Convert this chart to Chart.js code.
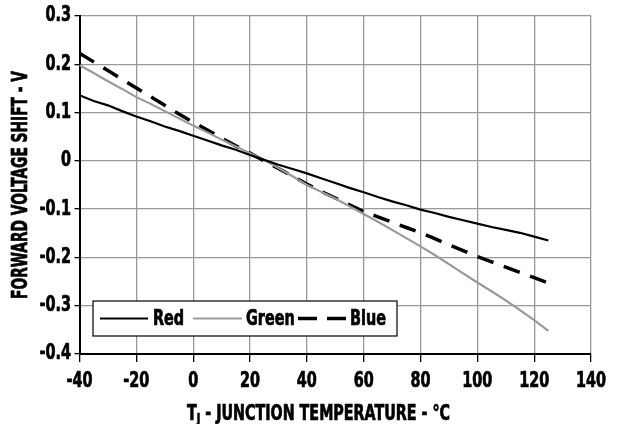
<!DOCTYPE html>
<html lang="en">
<head>
<meta charset="UTF-8">
<title>Forward Voltage Shift vs Junction Temperature</title>
<style>
  html, body { margin: 0; padding: 0; background: #fff; }
  #wrap { width: 621px; height: 424px; }
</style>
</head>
<body>
<div id="wrap"><canvas id="myChart" width="621" height="424"></canvas></div>
<script src="https://cdn.jsdelivr.net/npm/chart.js@4"></script>
<script>
// junction temperature, deg C
const temps = [-40, -35, -30, -25, -20, -15, -10, -5, 0, 5, 10, 15, 20, 25, 30, 35, 40,
               45, 50, 55, 60, 65, 70, 75, 80, 85, 90, 95, 100, 105, 110, 115, 120, 125];

// forward voltage shift, V
const redShift = [0.136, 0.124, 0.115, 0.103, 0.092, 0.082, 0.071, 0.062, 0.052, 0.042, 0.032, 0.023, 0.012, 0.002, -0.008, -0.017, -0.026,
                  -0.036, -0.046, -0.056, -0.065, -0.075, -0.084, -0.092, -0.101, -0.108, -0.116, -0.123, -0.130, -0.137, -0.143, -0.149, -0.157, -0.165];
const greenShift = [0.198, 0.182, 0.165, 0.149, 0.132, 0.118, 0.103, 0.088, 0.073, 0.059, 0.044, 0.030, 0.016, 0.002, -0.015, -0.032, -0.050,
                    -0.064, -0.078, -0.094, -0.110, -0.126, -0.143, -0.160, -0.177, -0.195, -0.214, -0.233, -0.252, -0.270, -0.289, -0.309, -0.330, -0.352];
const blueShift = [0.223, 0.205, 0.187, 0.169, 0.151, 0.133, 0.115, 0.097, 0.080, 0.064, 0.047, 0.031, 0.016, 0.000, -0.016, -0.032, -0.048,
                   -0.063, -0.077, -0.091, -0.105, -0.116, -0.127, -0.138, -0.149, -0.161, -0.174, -0.186, -0.198, -0.209, -0.220, -0.231, -0.242, -0.253];

const xTicks = [-40, -20, 0, 20, 40, 60, 80, 100, 120, 140];
const xTickLabels = ['-40', '-20', '0', '20', '40', '60', '80', '100', '120', '140'];
const yTicks = [-0.4, -0.3, -0.2, -0.1, 0, 0.1, 0.2, 0.3];
const yTickLabels = ['-0.4', '-0.3', '-0.2', '-0.1', '0', '0.1', '0.2', '0.3'];
const seriesNames = ['Red', 'Green', 'Blue'];

const FONT = '"DejaVu Sans Condensed", "Liberation Sans Narrow", Arial, sans-serif';
const BIG = 'bold 21px ' + FONT;

// draw text squeezed horizontally so it looks like a heavy condensed face
function squeezed(ctx, text, x, y, sx, align) {
    const w = ctx.measureText(text).width * sx;
    let x0 = x;
    if (align === 'center') x0 = x - w / 2;
    if (align === 'right') x0 = x - w;
    ctx.save();
    ctx.translate(x0, y);
    ctx.scale(sx, 1);
    ctx.textAlign = 'left';
    ctx.lineWidth = 0.7;
    ctx.strokeStyle = ctx.fillStyle;
    ctx.fillText(text, 0, 0);
    ctx.strokeText(text, 0, 0);
    ctx.restore();
}

function toPoints(ys) {
    return temps.map((t, i) => ({ x: t, y: ys[i] }));
}

// tick labels, legend box and axis titles are drawn by hand
const extras = {
    id: 'extras',
    afterDatasetsDraw(chart) {
        const ctx = chart.ctx;
        const area = chart.chartArea;
        const xs = chart.scales.x, ys = chart.scales.y;
        ctx.save();
        ctx.fillStyle = '#000';
        ctx.font = BIG;
        const sx = 26 / ctx.measureText('-40').width;

        // tick labels
        ctx.textBaseline = 'middle';
        xTicks.forEach((v, i) => squeezed(ctx, xTickLabels[i], xs.getPixelForValue(v), 382, sx, 'center'));
        yTicks.forEach((v, i) => squeezed(ctx, yTickLabels[i], 71, ys.getPixelForValue(v), sx, 'right'));

        // legend
        const lx = 93, ly = 301, lw = 304, lh = 35;
        ctx.fillStyle = '#fff';
        ctx.fillRect(lx, ly, lw, lh);
        ctx.strokeStyle = '#000';
        ctx.lineWidth = 1.2;
        ctx.strokeRect(lx, ly, lw, lh);

        const midY = ly + lh / 2;
        const items = [
            { x1: 100, x2: 148, tx: 153, color: '#000', width: 2.2, dash: [] },
            { x1: 193, x2: 242, tx: 246, color: '#999', width: 2.2, dash: [] },
            { x1: 298, x2: 346, tx: 350, color: '#000', width: 3.5, dash: [19, 10] }
        ];
        items.forEach((it, i) => {
            ctx.beginPath();
            ctx.setLineDash(it.dash);
            ctx.strokeStyle = it.color;
            ctx.lineWidth = it.width;
            ctx.moveTo(it.x1, midY);
            ctx.lineTo(it.x2, midY);
            ctx.stroke();
            ctx.setLineDash([]);
            ctx.fillStyle = '#000';
            squeezed(ctx, seriesNames[i], it.tx, midY + 1, sx, 'left');
        });

        // x title with subscript J
        ctx.fillStyle = '#000';
        ctx.strokeStyle = '#000';
        ctx.lineWidth = 0.7;
        ctx.textBaseline = 'alphabetic';
        const smallFont = 'bold 14px ' + FONT;
        const rest = ' - JUNCTION TEMPERATURE - \u00B0C';
        ctx.font = BIG;
        const wT = ctx.measureText('T').width;
        const wRest = ctx.measureText(rest).width;
        ctx.font = smallFont;
        const wJ = ctx.measureText('J').width;
        const tx = 263 / (wT + wJ + wRest);
        ctx.save();
        ctx.translate(187, 420);
        ctx.scale(tx, 1);
        ctx.font = BIG;
        ctx.fillText('T', 0, 0);
        ctx.strokeText('T', 0, 0);
        ctx.font = smallFont;
        ctx.fillText('J', wT, 3);
        ctx.strokeText('J', wT, 3);
        ctx.font = BIG;
        ctx.fillText(rest, wT + wJ, 0);
        ctx.strokeText(rest, wT + wJ, 0);
        ctx.restore();

        // y title
        const yText = 'FORWARD VOLTAGE SHIFT - V';
        ctx.font = BIG;
        const ty = 228 / ctx.measureText(yText).width;
        ctx.save();
        ctx.translate(27, (area.top + area.bottom) / 2);
        ctx.rotate(-Math.PI / 2);
        ctx.scale(ty, 1);
        ctx.textAlign = 'center';
        ctx.fillText(yText, 0, 0);
        ctx.strokeText(yText, 0, 0);
        ctx.restore();

        ctx.restore();
    }
};

const ctx = document.getElementById('myChart').getContext('2d');
new Chart(ctx, {
    type: 'line',
    data: {
        datasets: [
            { label: seriesNames[0], data: toPoints(redShift), borderColor: '#000', borderWidth: 2.2, pointRadius: 0, fill: false, tension: 0 },
            { label: seriesNames[1], data: toPoints(greenShift), borderColor: '#999', borderWidth: 2.2, pointRadius: 0, fill: false, tension: 0 },
            { label: seriesNames[2], data: toPoints(blueShift), borderColor: '#000', borderWidth: 3.5, borderDash: [17, 11], pointRadius: 0, fill: false, tension: 0 }
        ]
    },
    options: {
        responsive: false,
        animation: false,
        devicePixelRatio: 1,
        layout: { padding: { top: 16, right: 30, bottom: 0, left: 0 } },
        plugins: { legend: { display: false }, tooltip: { enabled: false } },
        scales: {
            x: {
                type: 'linear',
                min: -40,
                max: 140,
                afterBuildTicks: s => { s.ticks = xTicks.map(v => ({ value: v })); },
                afterFit: s => { s.height = 70; },
                grid: { color: '#999', lineWidth: 1.3, tickLength: 8, tickColor: '#000' },
                border: { color: '#000', width: 2 },
                ticks: { display: false }
            },
            y: {
                min: -0.4,
                max: 0.3,
                afterBuildTicks: s => { s.ticks = yTicks.map(v => ({ value: v })); },
                afterFit: s => { s.width = 79.5; },
                grid: { color: '#999', lineWidth: 1.3, tickLength: 5, tickColor: '#000' },
                border: { color: '#000', width: 2 },
                ticks: { display: false }
            }
        }
    },
    plugins: [extras]
});
</script>
</body>
</html>
